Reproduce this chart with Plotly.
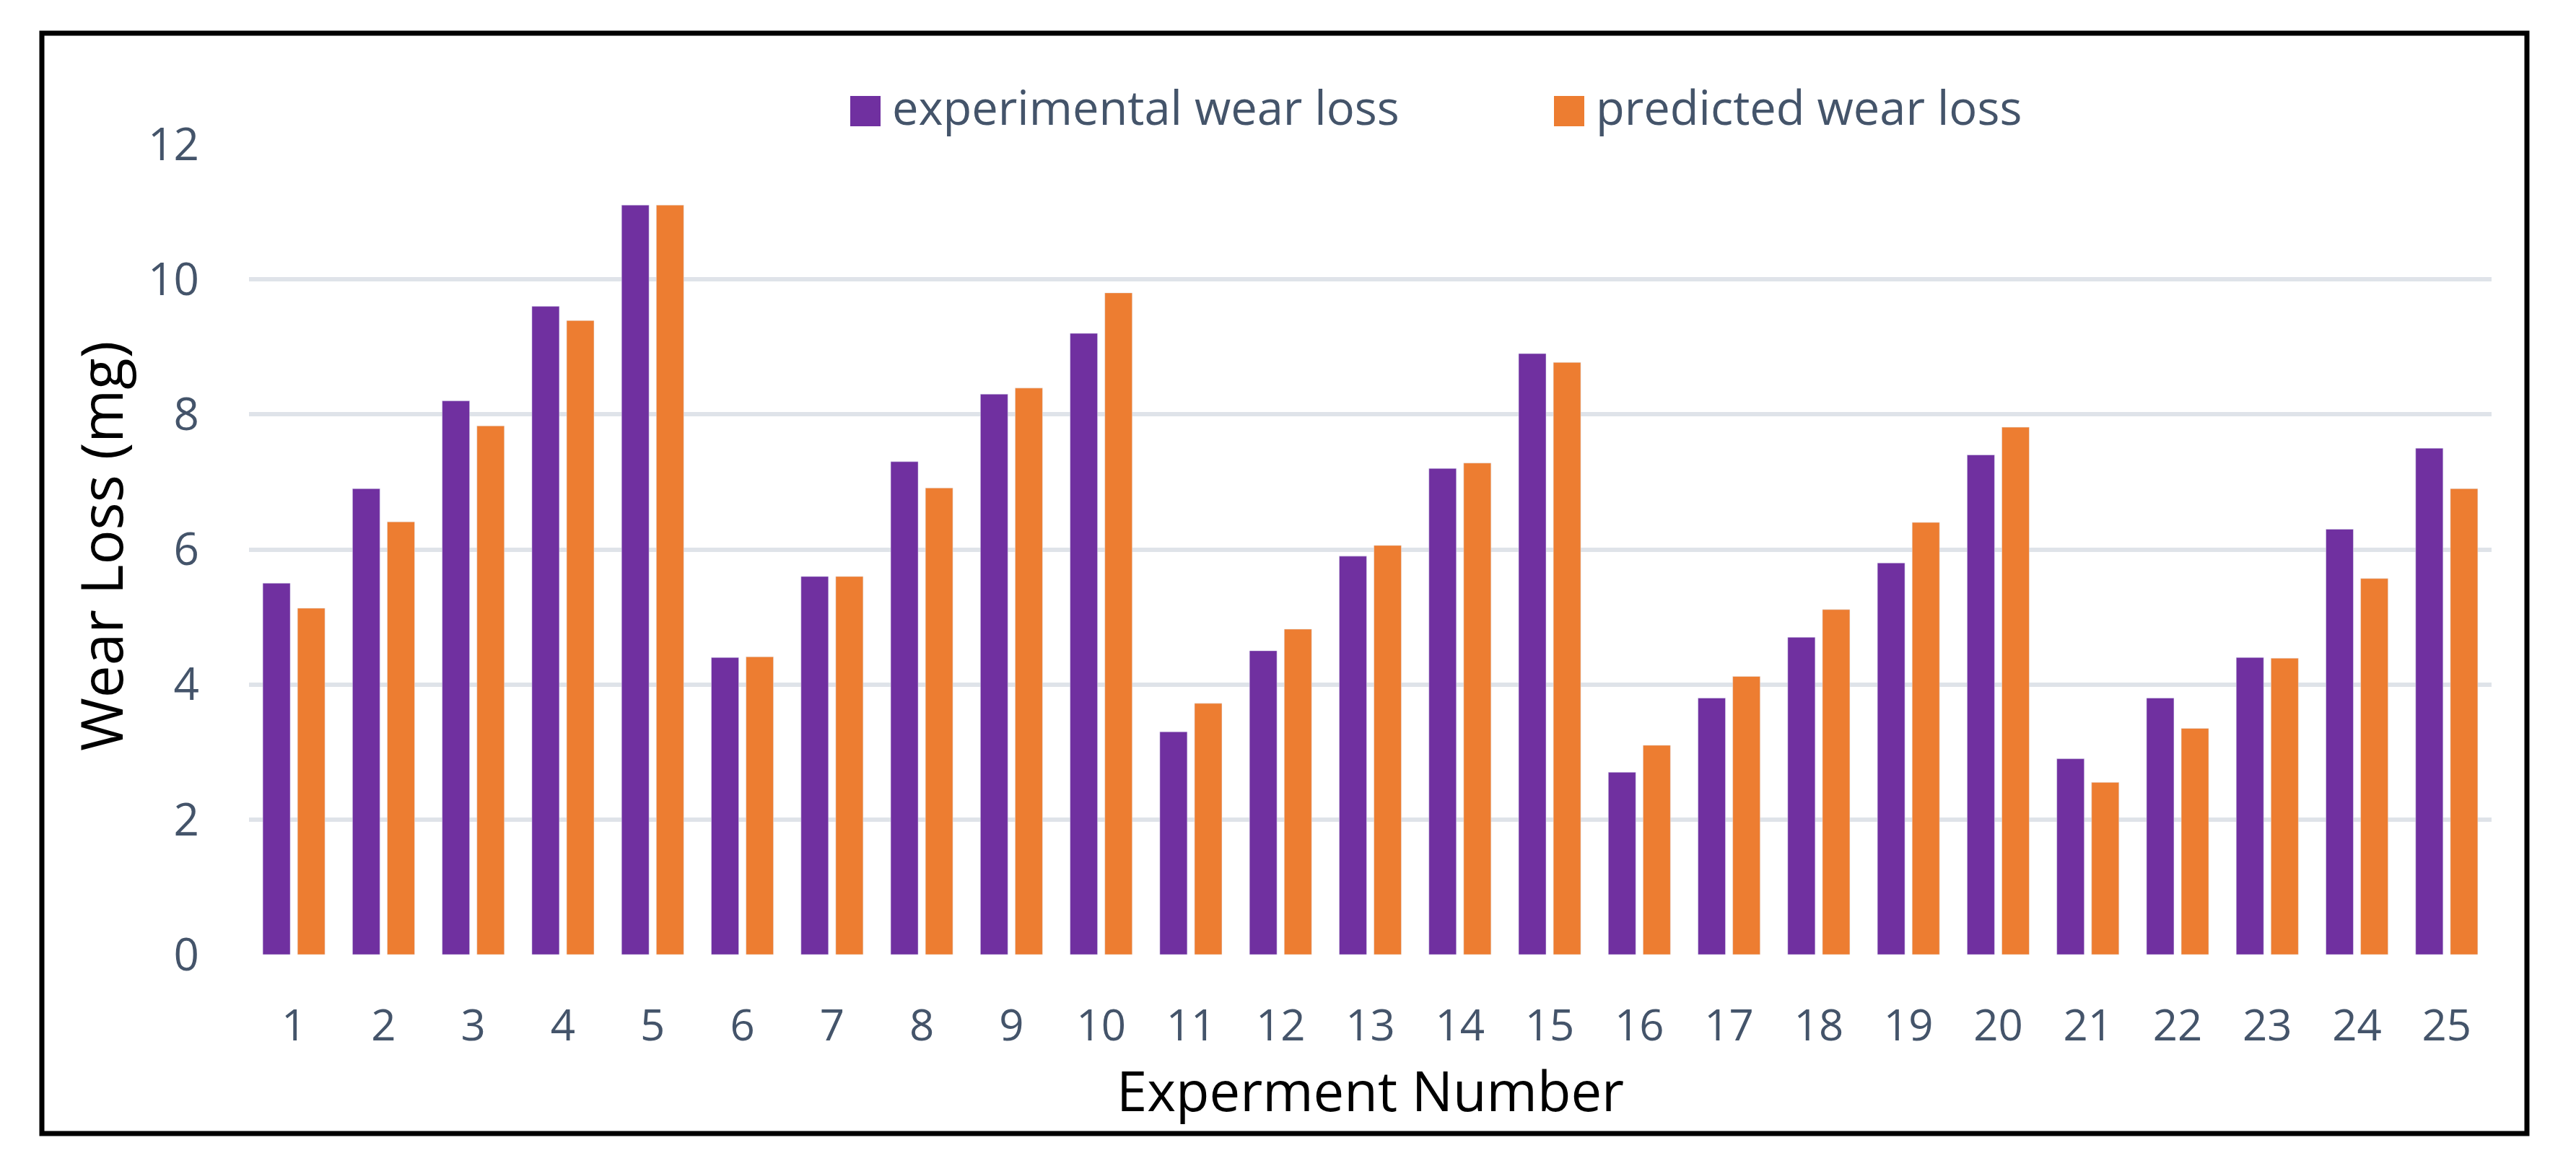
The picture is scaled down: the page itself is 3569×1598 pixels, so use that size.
import plotly.graph_objects as go

experiments = [str(i) for i in range(1, 26)]
experimental = [5.5, 6.9, 8.2, 9.6, 11.1, 4.4, 5.6, 7.3, 8.3, 9.2, 3.3, 4.5, 5.9,
                7.2, 8.9, 2.7, 3.8, 4.7, 5.8, 7.4, 2.9, 3.8, 4.4, 6.3, 7.5]
predicted = [5.13, 6.41, 7.83, 9.39, 11.1, 4.41, 5.6, 6.91, 8.39, 9.8, 3.72, 4.82, 6.06,
             7.28, 8.77, 3.10, 4.12, 5.11, 6.40, 7.81, 2.55, 3.35, 4.39, 5.57, 6.90]
series_names = ["experimental wear loss", "predicted wear loss"]
y_ticks = [0, 2, 4, 6, 8, 10, 12]

W, H = 3569, 1598
L, R, T, B = 337, 125, 192, 283
PW, PH = W - L - R, H - T - B

def px(x):
    return (x - L) / PW

def py(y):
    return (H - B - y) / PH

PURPLE = "#7030A0"
ORANGE = "#ED7D31"
TICK = "#44546A"
GRID = "#DFE3E9"
FONT = "Open Sans"

fig = go.Figure()
fig.add_trace(go.Bar(x=experiments, y=experimental, name=series_names[0],
                     marker_color=PURPLE, showlegend=False))
fig.add_trace(go.Bar(x=experiments, y=predicted, name=series_names[1],
                     marker_color=ORANGE, showlegend=False))

shapes = [
    dict(type="rect", xref="paper", yref="paper", x0=px(50), x1=px(3493),
         y0=py(1563), y1=py(38), line=dict(color="black", width=7), layer="above"),
    dict(type="rect", xref="paper", yref="paper", x0=px(1170), x1=px(1212),
         y0=py(167), y1=py(125), line=dict(width=0), fillcolor=PURPLE),
    dict(type="rect", xref="paper", yref="paper", x0=px(2145), x1=px(2187),
         y0=py(167), y1=py(125), line=dict(width=0), fillcolor=ORANGE),
]

annotations = [
    dict(text=series_names[0], xref="paper", yref="paper", x=px(1226), y=py(140),
         xanchor="left", yanchor="middle", showarrow=False,
         font=dict(family=FONT, size=65, color=TICK)),
    dict(text=series_names[1], xref="paper", yref="paper", x=px(2201), y=py(140),
         xanchor="left", yanchor="middle", showarrow=False,
         font=dict(family=FONT, size=65, color=TICK)),
    dict(text="Experment Number", xref="paper", yref="paper", x=px(1890), y=py(1503),
         xanchor="center", yanchor="middle", showarrow=False,
         font=dict(family=FONT, size=76, color="black")),
    dict(text="Wear Loss (mg)", xref="paper", yref="paper", x=px(130), y=py(749),
         xanchor="center", yanchor="middle", showarrow=False, textangle=-90,
         font=dict(family=FONT, size=80, color="black")),
]

fig.update_layout(
    width=W, height=H,
    margin=dict(l=L, r=R, t=T, b=B),
    paper_bgcolor="white", plot_bgcolor="white",
    barmode="group", bargap=0.226, bargroupgap=0.21,
    shapes=shapes, annotations=annotations,
    font=dict(family=FONT),
)
fig.update_xaxes(
    type="category", range=[-0.5, 24.5], showgrid=False, zeroline=False,
    showline=False, ticks="", ticklabelstandoff=58,
    tickfont=dict(family=FONT, size=60, color=TICK),
)
fig.update_yaxes(
    range=[0, 12], tickvals=y_ticks, showgrid=True, gridcolor=GRID, gridwidth=6,
    zeroline=False, showline=False, ticks="", ticklabelstandoff=68,
    tickfont=dict(family=FONT, size=62, color=TICK),
)

fig.write_html("out.html")
